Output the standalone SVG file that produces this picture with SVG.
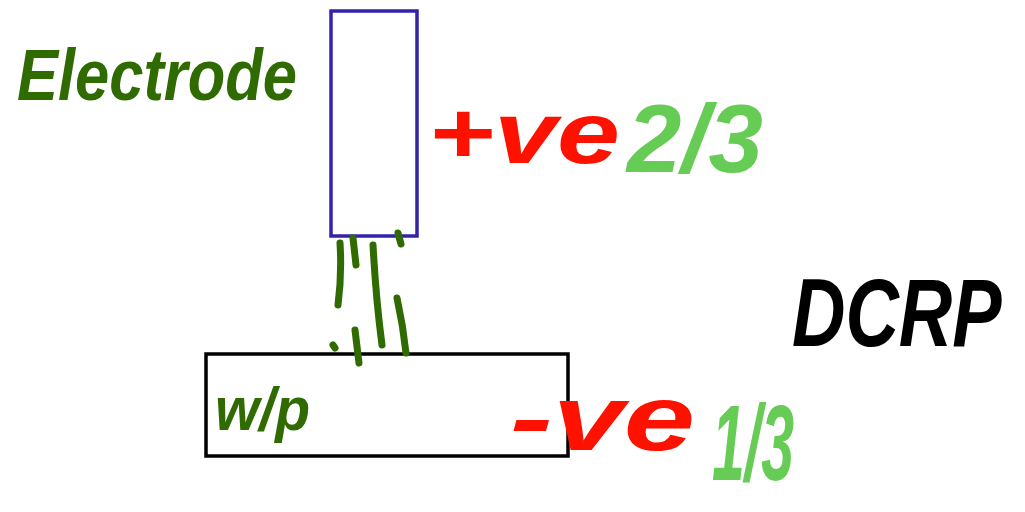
<svg xmlns="http://www.w3.org/2000/svg" width="1025" height="512" viewBox="0 0 1025 512">
<style>
.t{font-family:"Liberation Sans",Arial,sans-serif;font-weight:bold;font-style:italic}
.dg{fill:#2F6B00}
.red{fill:#FF1100}
.lg{fill:#66CC55}
.blk{fill:#000}
.spark{stroke:#2F6B00;stroke-width:7;stroke-linecap:round;fill:none}
</style>
<rect width="1025" height="512" fill="#fff"/>
<g id="electrode">
<rect x="331" y="11" width="86" height="225" fill="none" stroke="#3322AA" stroke-width="3.5"/>
<text class="t dg" x="17" y="100" font-size="72" textLength="280" lengthAdjust="spacingAndGlyphs">Electrode</text>
<text class="t red" x="428" y="163" font-size="88" textLength="192" lengthAdjust="spacingAndGlyphs">+ve</text>
<text class="t lg" x="627" y="172" font-size="96" textLength="136" lengthAdjust="spacingAndGlyphs">2/3</text>
</g>
<g id="workpiece">
<rect x="206" y="354" width="362" height="102" fill="none" stroke="#000" stroke-width="3.5"/>
<text class="t dg" x="215" y="430" font-size="62" textLength="95" lengthAdjust="spacingAndGlyphs">w/p</text>
<text class="t red" x="510" y="450" font-size="92" textLength="185" lengthAdjust="spacingAndGlyphs">-ve</text>
<text class="t lg" x="712" y="480" font-size="108" textLength="82" lengthAdjust="spacingAndGlyphs">1/3</text>
</g>
<g id="dcrp">
<text class="t blk" transform="translate(792,346) scale(1,1.3)" x="0" y="0" font-size="74">DCRP</text>
</g>
<g id="connectors">
<path class="spark" d="M340 243 Q342 275 338 305"/>
<path class="spark" d="M353 238 L356 265"/>
<path class="spark" d="M373 245 Q376 300 382 345"/>
<path class="spark" d="M397 298 Q403 325 406 353"/>
<path class="spark" d="M355 330 L359 363"/>
<path class="spark" d="M333 345 L335 348"/>
<path class="spark" d="M398 233 L401 244"/>
</g>
</svg>
